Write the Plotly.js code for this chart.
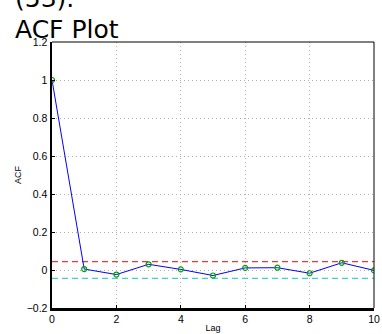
<!DOCTYPE html>
<html>
<head>
<meta charset="utf-8">
<script src="https://cdn.plot.ly/plotly-3.0.1.min.js"></script>
<style>html,body{margin:0;padding:0;background:#fff;}#chart{width:382px;height:334px;}</style>
</head>
<body>
<div id="chart"></div>
<script>
const lags = [0, 1, 2, 3, 4, 5, 6, 7, 8, 9, 10];
const acf = [1, 0.005, -0.024, 0.03, 0.003, -0.029, 0.011, 0.012, -0.017, 0.038, -0.002];
const upperBound = 0.044;
const lowerBound = -0.044;
const xTicks = [0, 2, 4, 6, 8, 10];
const yTicks = [-0.2, 0, 0.2, 0.4, 0.6, 0.8, 1, 1.2];
const yTickText = ['\u22120.2', '0', '0.2', '0.4', '0.6', '0.8', '1', '1.2'];
const titleLines = ['(53).', 'ACF Plot'];

const traces = [
  {x: [0, 10], y: [upperBound, upperBound], mode: 'lines', line: {color: '#ff3030', width: 1.2, dash: '6px,4px'}, hoverinfo: 'skip'},
  {x: [0, 10], y: [lowerBound, lowerBound], mode: 'lines', line: {color: '#40d0d0', width: 1.2, dash: '6px,4px'}, hoverinfo: 'skip'},
  {x: lags, y: acf, mode: 'lines+markers', line: {color: '#0000ff', width: 1},
   marker: {symbol: 'circle-open', size: 5, color: '#00a000', line: {width: 1.2, color: '#00a000'}}}
];

const layout = {
  width: 382, height: 334,
  margin: {l: 52, r: 8, t: 42, b: 26},
  paper_bgcolor: '#fff', plot_bgcolor: '#fff',
  showlegend: false,
  font: {family: 'Liberation Sans, Arial, sans-serif', size: 10, color: '#000'},
  xaxis: {
    range: [0, 10], tickvals: xTicks, ticktext: xTicks.map(String),
    showline: true, linecolor: '#000', linewidth: 2.5,
    ticks: 'inside', ticklen: 3, tickcolor: '#000',
    showgrid: true, gridcolor: '#b0b0b0', griddash: '1px,3px', gridwidth: 1,
    zeroline: false,
    tickfont: {size: 10.5},
    title: {text: 'Lag', font: {size: 9}, standoff: 1}
  },
  yaxis: {
    range: [-0.2, 1.2], tickvals: yTicks, ticktext: yTickText,
    showline: true, linecolor: '#000', linewidth: 2.5,
    ticks: 'inside', ticklen: 3, tickcolor: '#000',
    showgrid: true, gridcolor: '#b0b0b0', griddash: '1px,3px', gridwidth: 1,
    zeroline: false,
    tickfont: {size: 10.5},
    title: {text: 'ACF', font: {size: 9}, standoff: 4}
  },
  shapes: [
    {type: 'line', xref: 'paper', yref: 'paper', x0: 0, x1: 1, y0: 1, y1: 1, line: {color: '#000', width: 1}},
    {type: 'line', xref: 'paper', yref: 'paper', x0: 1, x1: 1, y0: 0, y1: 1, line: {color: '#000', width: 1}}
  ],
  annotations: [
    {text: titleLines[0], xref: 'paper', yref: 'paper', x: -0.12, y: 1.005, yshift: 26, xanchor: 'left', yanchor: 'bottom', showarrow: false,
     font: {family: 'DejaVu Sans, sans-serif', size: 25, color: '#000'}},
    {text: titleLines[1], xref: 'paper', yref: 'paper', x: -0.12, y: 1.005, yshift: -5, xanchor: 'left', yanchor: 'bottom', showarrow: false,
     font: {family: 'DejaVu Sans, sans-serif', size: 25, color: '#000'}}
  ]
};

Plotly.newPlot('chart', traces, layout, {displayModeBar: false, staticPlot: true});
</script>
</body>
</html>
